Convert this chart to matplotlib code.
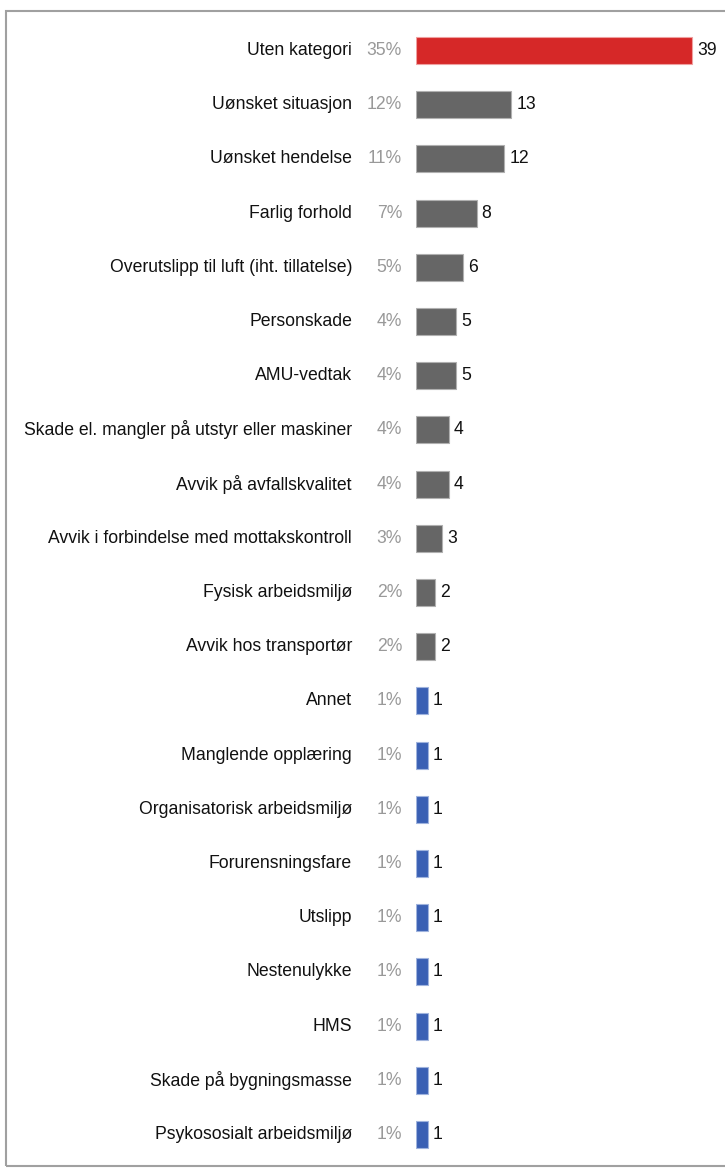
import matplotlib
matplotlib.use("Agg")
import matplotlib.pyplot as plt
from matplotlib.patches import Rectangle
from matplotlib.transforms import blended_transform_factory

categories = [
    "Uten kategori", "Uønsket situasjon", "Uønsket hendelse", "Farlig forhold",
    "Overutslipp til luft (iht. tillatelse)", "Personskade", "AMU-vedtak",
    "Skade el. mangler på utstyr eller maskiner", "Avvik på avfallskvalitet",
    "Avvik i forbindelse med mottakskontroll", "Fysisk arbeidsmiljø",
    "Avvik hos transportør", "Annet", "Manglende opplæring",
    "Organisatorisk arbeidsmiljø", "Forurensningsfare", "Utslipp",
    "Nestenulykke", "HMS", "Skade på bygningsmasse", "Psykososialt arbeidsmiljø",
]
counts = [39, 13, 12, 8, 6, 5, 5, 4, 4, 3, 2, 2, 1, 1, 1, 1, 1, 1, 1, 1, 1]
pct_labels = ["35%", "12%", "11%", "7%", "5%", "4%", "4%", "4%", "4%", "3%",
              "2%", "2%", "1%", "1%", "1%", "1%", "1%", "1%", "1%", "1%", "1%"]

RED, GRAY, BLUE = "#D62828", "#666666", "#3A60B4"
EDGE = {RED: "#EFA0A0", GRAY: "#B0B0B0", BLUE: "#9FB3DD"}

def color_for(v, i):
    if i == 0:
        return RED
    return BLUE if v == 1 else GRAY

plt.rcParams["font.family"] = ["Liberation Sans", "DejaVu Sans"]
FS = 12.7

fig = plt.figure(figsize=(7.25, 11.69), dpi=100)
ax = fig.add_axes([416 / 725, 1 - 1161.6 / 1169, 1 - 416 / 725, (1161.6 - 23.4) / 1169])

base = -0.73
n = len(categories)
ys = list(range(n))
colors = [color_for(v, i) for i, v in enumerate(counts)]
ax.barh(ys, [v - base for v in counts], left=base, height=0.5,
        color=colors, edgecolor=[EDGE[c] for c in colors], linewidth=0.8)

ax.set_xlim(base, base + (725 - 416) / 6.95)
ax.set_ylim(n - 0.5, -0.5)
ax.axis("off")

trans = blended_transform_factory(ax.transAxes, ax.transData)
for y, cat, v, p in zip(ys, categories, counts, pct_labels):
    ax.annotate(str(v), xy=(v, y), xytext=(5, 0), textcoords="offset pixels",
                ha="left", va="center", fontsize=FS, color="#111111")
    ax.annotate(p, xy=(0, y), xycoords=trans, xytext=(-14, 0), textcoords="offset pixels",
                ha="right", va="center", fontsize=FS, color="#999999")
    ax.annotate(cat, xy=(0, y), xycoords=trans, xytext=(-64, 0), textcoords="offset pixels",
                ha="right", va="center", fontsize=FS, color="#111111")

fig.patches.append(Rectangle((5.5 / 725, 1 - 1166 / 1169), 730 / 725, (1166 - 11) / 1169,
                             transform=fig.transFigure, fill=False,
                             edgecolor="#A0A0A0", linewidth=1.5))

fig.savefig("out.png", dpi=100)
